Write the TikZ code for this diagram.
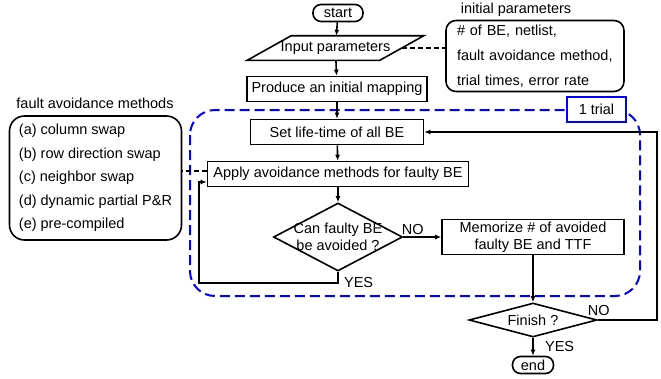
\documentclass[tikz,border=0pt]{standalone}
\usepackage{fontspec}
\setmainfont{Liberation Sans}
\usetikzlibrary{shapes.geometric,arrows.meta}
\begin{document}
\begin{tikzpicture}[x=1pt, y=-1pt, line width=1.6pt, >={Latex[length=6pt,width=5pt]},
  every node/.style={font=\fontsize{14.5}{17}\selectfont},
  box/.style={draw, minimum height=25, inner sep=0},
  term/.style={draw, rounded corners=8, minimum width=50, minimum height=17, inner sep=0},
  io/.style={minimum width=131, minimum height=23, inner sep=0},
  decision/.style={draw, diamond, inner sep=0},
  note/.style={draw, rounded corners=#1, align=left, inner ysep=0},
  dashline/.style={dash pattern=on 5pt off 3pt}]
\useasboundingbox (0,0) rectangle (661,378);
% one trial
\draw[blue, line width=2pt, dash pattern=on 10pt off 5pt, rounded corners=25] (190,110) rectangle (640,296);
\node[draw=blue, fill=white, line width=2pt, minimum width=59, minimum height=25, inner sep=0] (trial) at (596.5,109.5) {1 trial};
% main flow
\node[term] (start) at (338,13) {start};
\node[io] (inp) at (335.5,48) {Input parameters};
\draw ([xshift=-22pt]inp.south west) -- ([xshift=-22pt]inp.south east)
  -- ([xshift=22pt]inp.north east) -- ([xshift=22pt]inp.north west) -- cycle;
\node[box, minimum width=180] (map) at (337,89) {Produce an initial mapping};
\node[box, minimum width=173] (life) at (337,132) {Set life-time of all BE};
\node[box, minimum width=261] (apply) at (338,174) {Apply avoidance methods for faulty BE};
\node[decision, minimum width=129, minimum height=68,
  label={[align=center]center:{Can faulty BE\\be avoided ?}}] (avoid) at (338,237) {};
\node[box, minimum width=182, minimum height=35, align=center] (mem) at (533,237) {Memorize \# of avoided\\faulty BE and TTF};
\node[decision, minimum width=128, minimum height=34, label=center:Finish ?] (fin) at (533,320) {};
\node[term, minimum width=41] (end) at (533,365) {end};
% side notes
\node (initlbl) at (516,10) {initial parameters};
\node[note=10, minimum width=178, minimum height=71, inner xsep=11, text width=156] (init) at (535,56)
  {\# of BE, netlist,\\[8pt]fault avoidance method,\\[8pt]trial times, error rate};
\node (famlbl) at (95,103) {fault avoidance methods};
\node[note=15, minimum width=172, minimum height=124, inner xsep=0] (fam) at (95.5,178)
  {(a) column swap\\[6.6pt](b) row direction swap\\[6.6pt](c) neighbor swap\\[6.6pt](d) dynamic partial P\&R\\[6.6pt](e) pre-compiled};
% connectors
\draw[->] (start) -- (inp);
\draw[->] (inp) -- (map);
\draw[->] (map) -- (life);
\draw[->] (life) -- (apply);
\draw[->] (apply) -- (avoid);
\draw[->] (avoid.east) -- node[pos=.25, above, inner sep=2]{NO} (mem.west);
\draw[->] (avoid.south) -- ++(0,11) node[right, xshift=2pt]{YES} -- ++(-139,0) |- ([yshift=-8pt]apply.west);
\draw[->] (mem) -- (fin);
\draw[->] (fin.east) node[above, xshift=1pt]{NO} -- ++(59,0) |- (life.east);
\draw[->] (fin) -- node[right, xshift=8pt]{YES} (end);
\draw[dashline] (inp.east) -- (inp.east -| init.west);
\draw[dashline] ([yshift=3pt]apply.west) -- ([yshift=3pt]apply.west -| fam.east);
\end{tikzpicture}
\end{document}
